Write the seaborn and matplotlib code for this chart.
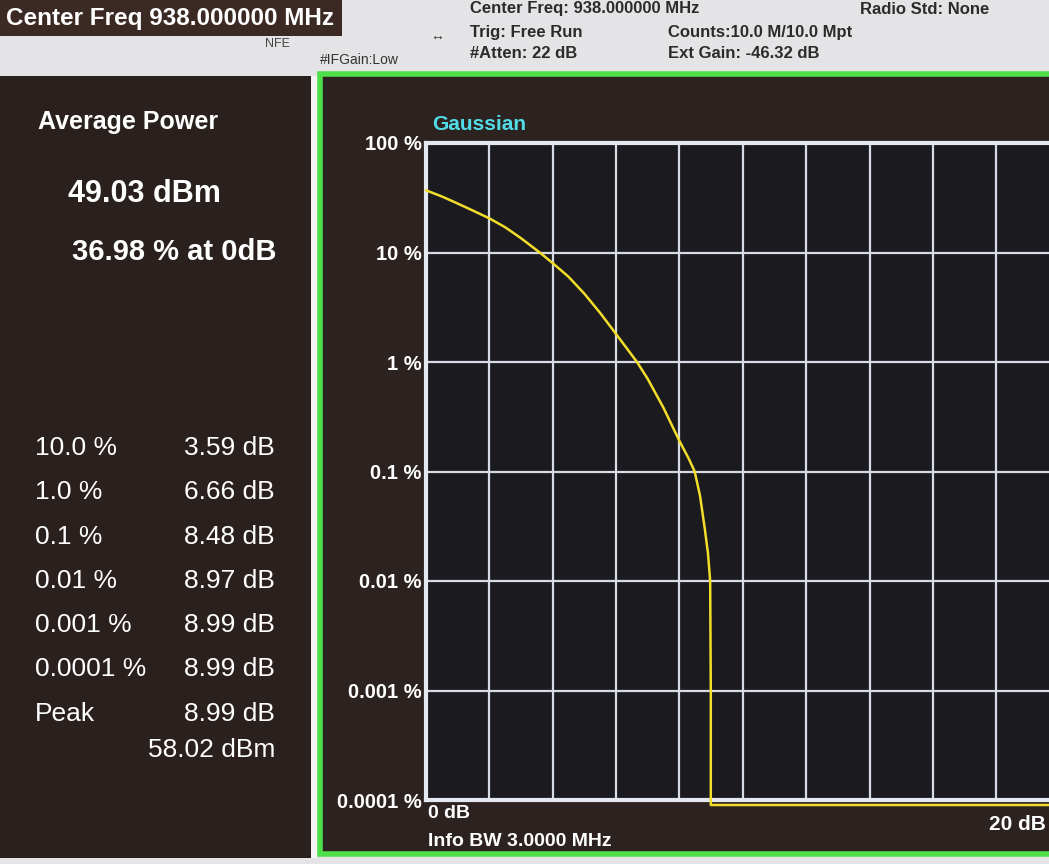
"""CCDF screen of a signal analyser, redrawn with seaborn."""
import matplotlib
matplotlib.use('Agg')
import matplotlib.pyplot as plt
from matplotlib.patches import Rectangle
import seaborn as sns

# measured CCDF trace (power above average in dB, probability in %)
trace_db = [0.0, 0.5, 1.0, 1.5, 2.0, 2.5, 3.0, 3.59, 4.0, 4.5, 5.0, 5.5, 6.0,
            6.66, 7.0, 7.5, 8.0, 8.3, 8.48, 8.65, 8.8, 8.9, 8.97, 8.99, 8.99,
            8.99, 20.0]
trace_pct = [36.98, 32.5, 28.0, 24.0, 20.5, 17.0, 13.5, 10.0, 8.0, 6.0, 4.2,
             2.8, 1.8, 1.0, 0.7, 0.38, 0.19, 0.13, 0.1, 0.06, 0.03, 0.018,
             0.01, 0.001, 0.0001, 0.00009, 0.00009]

y_ticks = [100, 10, 1, 0.1, 0.01, 0.001, 0.0001]
y_labels = ['100 %', '10 %', '1 %', '0.1 %', '0.01 %', '0.001 %', '0.0001 %']

stat_rows = ['10.0 %', '1.0 %', '0.1 %', '0.01 %', '0.001 %', '0.0001 %', 'Peak']
stat_vals = ['3.59 dB', '6.66 dB', '8.48 dB', '8.97 dB', '8.99 dB', '8.99 dB', '8.99 dB']
avg_power = '49.03 dBm'
avg_pct = '36.98 % at 0dB'
peak_power = '58.02 dBm'

sns.set_style('dark')
plt.rcParams['font.family'] = ['Liberation Sans', 'DejaVu Sans']

W, H = 1049, 864
fig = plt.figure(figsize=(W / 100, H / 100), dpi=100)
fig.patch.set_facecolor('#e4e4e6')


def fx(px):
    return px / W


def fy(py):
    return 1 - py / H


# panels behind the plot
fig.patches.append(Rectangle((0, fy(858)), fx(312), fy(76) - fy(858),
                             transform=fig.transFigure, facecolor='#2a211f',
                             edgecolor='none', zorder=-5))
fig.patches.append(Rectangle((fx(311), fy(858)), fx(6), fy(76) - fy(858),
                             transform=fig.transFigure, facecolor='#f4f4f4',
                             edgecolor='none', zorder=-5))
fig.patches.append(Rectangle((fx(320), fy(854)), fx(760), fy(74) - fy(854),
                             transform=fig.transFigure, facecolor='#2c2321',
                             edgecolor='#4ee04a', linewidth=4, zorder=-5))
# header
fig.patches.append(Rectangle((0, fy(36)), fx(342), fy(0) - fy(36),
                             transform=fig.transFigure, facecolor='#3b2a24',
                             edgecolor='none', zorder=-5))

hdr = dict(color='#2b2b2b', fontsize=12, va='center', fontweight='bold')
fig.text(fx(6), fy(18), 'Center Freq 938.000000 MHz', color='white',
         fontsize=17.5, fontweight='bold', va='center')
fig.text(fx(265), fy(44), 'NFE', color='#444444', fontsize=9, va='center')
fig.text(fx(320), fy(60), '#IFGain:Low', color='#333333', fontsize=10, va='center')
fig.text(fx(430), fy(36), '↔', color='#333333', fontsize=10, va='center')
fig.text(fx(470), fy(9), 'Center Freq: 938.000000 MHz', **hdr)
fig.text(fx(470), fy(32), 'Trig: Free Run', **hdr)
fig.text(fx(470), fy(53), '#Atten: 22 dB', **hdr)
fig.text(fx(668), fy(32), 'Counts:10.0 M/10.0 Mpt', **hdr)
fig.text(fx(668), fy(53), 'Ext Gain: -46.32 dB', **hdr)
fig.text(fx(860), fy(9), 'Radio Std: None', **hdr)

# left summary panel
fig.text(fx(38), fy(122), 'Average Power', color='white', fontsize=18,
         fontweight='bold', va='center')
fig.text(fx(68), fy(194), avg_power, color='white', fontsize=22,
         fontweight='bold', va='center')
fig.text(fx(72), fy(252), avg_pct, color='white', fontsize=21,
         fontweight='bold', va='center')
row_y = [448, 492, 537, 581, 625, 669, 714]
for label, val, ry in zip(stat_rows, stat_vals, row_y):
    fig.text(fx(35), fy(ry), label, color='white', fontsize=19, va='center')
    fig.text(fx(275), fy(ry), val, color='white', fontsize=19, va='center',
             ha='right')
fig.text(fx(275), fy(750), peak_power, color='white', fontsize=19,
         va='center', ha='right')

# plot area (right edge runs off the screen photo)
ax = fig.add_axes([fx(426), fy(800), 0.604, fy(143) - fy(800)])
ax.set_zorder(5)
ax.set_facecolor('#1b1a1f')
sns.lineplot(x=trace_db, y=trace_pct, ax=ax, color='#f1dd2a', linewidth=1.8,
             sort=False, estimator=None, clip_on=False, zorder=5)
ax.set_yscale('log')
ax.set_xlim(0, 20)
ax.set_ylim(1e-4, 100)
ax.set_xticks(range(0, 21, 2))
ax.set_xticklabels([])
ax.set_yticks(y_ticks)
ax.set_yticklabels(y_labels, fontweight='bold')
ax.minorticks_off()
ax.tick_params(axis='y', colors='white', labelsize=14.5, length=0, pad=3)
ax.tick_params(axis='x', length=0)
ax.grid(True, color='#d6dbe6', linewidth=1.6)
for side in ax.spines.values():
    side.set_color('#e4e8f0')
    side.set_linewidth(3)
ax.set_xlabel('')
ax.set_ylabel('')

fig.text(fx(432), fy(124), 'Gaussian', color='#52dce8', fontsize=15,
         fontweight='bold', va='center')
fig.text(fx(428), fy(814), '0 dB', color='white', fontsize=14,
         fontweight='bold', va='center')
fig.text(fx(428), fy(841), 'Info BW 3.0000 MHz', color='white', fontsize=14,
         fontweight='bold', va='center')
fig.text(fx(1046), fy(824), '20 dB', color='white', fontsize=15,
         fontweight='bold', va='center', ha='right')

fig.savefig('out.png', dpi=100, facecolor=fig.get_facecolor())
